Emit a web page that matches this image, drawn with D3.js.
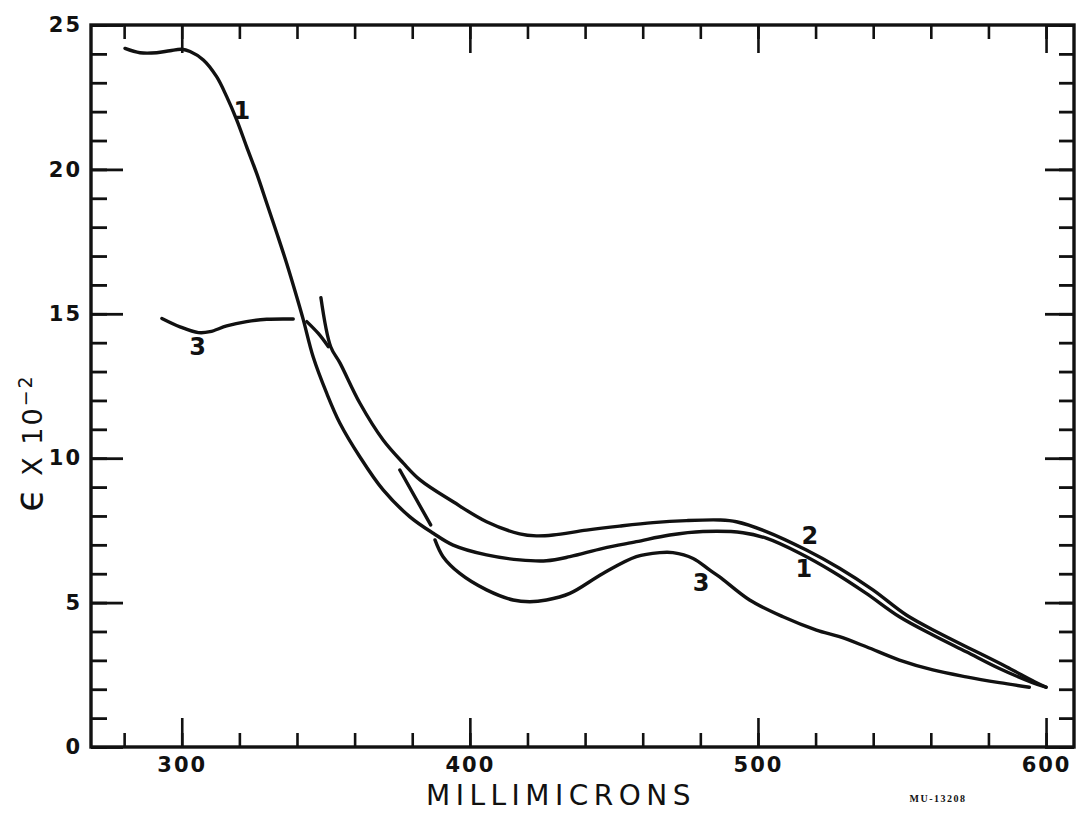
<!DOCTYPE html>
<html>
<head>
<meta charset="utf-8">
<script src="https://cdn.jsdelivr.net/npm/d3@7"></script>
<style>
  html, body { margin: 0; padding: 0; background: #fff; }
  svg { display: block; }
  text { font-family: "DejaVu Sans", sans-serif; fill: #111; }
</style>
</head>
<body>
<svg id="chart" width="1078" height="823"></svg>
<script>
// Absorption spectra, molar extinction coefficient (x 10^-2) vs wavelength (mμ)

// Curve 1
const curve1Nm  = [280.3, 285.5, 291.3, 295.9, 300.0, 302.9, 307.5, 312.1, 315.6, 319.1, 322.5, 326.0, 329.5, 333.0, 336.4, 339.9, 342.2, 345.6, 350.3, 354.9, 361.8, 369.9, 379.2, 387.3, 394.2, 405.8, 417.3, 426.6, 434.7, 446.2, 457.8, 469.4, 480.9, 494.8, 502.9, 514.5, 526.0, 537.6, 549.1, 560.7, 572.3, 583.8, 595.3, 600.0];
const curve1Eps = [24.19, 24.04, 24.04, 24.11, 24.16, 24.08, 23.79, 23.21, 22.52, 21.71, 20.79, 19.86, 18.83, 17.79, 16.75, 15.59, 14.79, 13.51, 12.25, 11.21, 10.05, 8.90, 7.97, 7.40, 6.99, 6.65, 6.48, 6.45, 6.59, 6.88, 7.11, 7.34, 7.46, 7.42, 7.23, 6.71, 6.07, 5.32, 4.51, 3.88, 3.30, 2.72, 2.23, 2.07];

// Curve 2
const curve2Nm  = [348.3, 351.7, 354.9, 361.8, 369.9, 376.9, 382.7, 394.2, 405.8, 417.3, 423.1, 428.9, 440.5, 452.0, 463.6, 475.2, 486.7, 492.5, 502.9, 516.8, 528.3, 539.9, 551.5, 563.0, 574.6, 586.2, 596.0, 600.0];
const curve2Eps = [15.56, 13.86, 13.30, 11.91, 10.63, 9.83, 9.25, 8.49, 7.80, 7.38, 7.31, 7.34, 7.51, 7.65, 7.77, 7.84, 7.86, 7.80, 7.46, 6.82, 6.19, 5.44, 4.57, 3.94, 3.36, 2.78, 2.26, 2.07];

// Curve 3, drawn in separate pieces
const curve3aNm  = [293.1, 299.4, 305.8, 309.8, 315.6, 322.5, 329.5, 338.7];
const curve3aEps = [14.84, 14.55, 14.35, 14.38, 14.58, 14.73, 14.81, 14.82];
const curve3bNm  = [343.4, 347.4, 350.9];
const curve3bEps = [14.73, 14.32, 13.86];
const curve3cNm  = [375.7, 386.4];
const curve3cEps = [9.59, 7.69];
const curve3dNm  = [387.9, 390.7, 396.5, 405.8, 415.0, 420.8, 426.6, 434.7, 446.2, 457.8, 465.9, 470.5, 477.5, 483.2, 486.7, 497.1, 508.7, 520.3, 528.3, 537.6, 549.1, 560.7, 572.3, 583.8, 594.2];
const curve3dEps = [7.17, 6.59, 6.01, 5.44, 5.09, 5.03, 5.09, 5.32, 6.01, 6.59, 6.73, 6.73, 6.53, 6.13, 5.89, 5.09, 4.51, 4.05, 3.82, 3.47, 3.01, 2.67, 2.43, 2.23, 2.07];

// Curve labels
const labelText = ["1", "3", "2", "1", "3"];
const labelNm   = [320.9, 305.5, 518.0, 515.9, 480.3];
const labelEps  = [22.06, 13.88, 7.34, 6.18, 5.70];

// Axis ticks
const xMinorTicks = d3.range(280, 601, 20);
const xMajorTicks = [300, 400, 500, 600];
const yMinorTicks = d3.range(0, 26, 1);
const yMajorTicks = [0, 5, 10, 15, 20, 25];

const svg = d3.select("#chart");
const plotLeft = 91, plotRight = 1074, plotTop = 25, plotBottom = 747;

const x = d3.scaleLinear().domain([268.5, 609.7]).range([plotLeft, plotRight]);
const y = d3.scaleLinear().domain([0, 25]).range([plotBottom, plotTop]);

const line = d3.line()
  .x(d => x(d[0]))
  .y(d => y(d[1]))
  .curve(d3.curveCatmullRom.alpha(0.5));

const zip = (a, b) => a.map((v, i) => [v, b[i]]);

function styleAxis(g, width) {
  g.select(".domain").remove();
  g.selectAll(".tick line").attr("stroke", "#111").attr("stroke-width", width);
  g.selectAll(".tick text")
    .style("font-family", "'DejaVu Sans', sans-serif")
    .style("font-size", "21px")
    .style("font-weight", "bold")
    .style("letter-spacing", "2px")
    .attr("fill", "#111");
}

// Bottom axis
svg.append("g").attr("transform", `translate(0,${plotBottom})`)
  .call(d3.axisBottom(x).tickValues(xMinorTicks).tickSize(-14).tickFormat(""))
  .call(g => styleAxis(g, 2.6));
svg.append("g").attr("transform", `translate(0,${plotBottom})`)
  .call(d3.axisBottom(x).tickValues(xMajorTicks).tickSize(-29).tickPadding(10).tickFormat(d3.format("d")))
  .call(g => styleAxis(g, 2.6));

// Top axis
svg.append("g").attr("transform", `translate(0,${plotTop})`)
  .call(d3.axisTop(x).tickValues(xMinorTicks).tickSize(-14).tickFormat(""))
  .call(g => styleAxis(g, 2.6));
svg.append("g").attr("transform", `translate(0,${plotTop})`)
  .call(d3.axisTop(x).tickValues(xMajorTicks).tickSize(-28).tickFormat(""))
  .call(g => styleAxis(g, 2.6));

// Left axis
svg.append("g").attr("transform", `translate(${plotLeft},0)`)
  .call(d3.axisLeft(y).tickValues(yMinorTicks).tickSize(-16).tickFormat(""))
  .call(g => styleAxis(g, 2.8));
svg.append("g").attr("transform", `translate(${plotLeft},0)`)
  .call(d3.axisLeft(y).tickValues(yMajorTicks).tickSize(-32).tickPadding(9).tickFormat(d3.format("d")))
  .call(g => styleAxis(g, 2.8));

// Right axis
svg.append("g").attr("transform", `translate(${plotRight},0)`)
  .call(d3.axisRight(y).tickValues(yMinorTicks).tickSize(-15).tickFormat(""))
  .call(g => styleAxis(g, 2.8));
svg.append("g").attr("transform", `translate(${plotRight},0)`)
  .call(d3.axisRight(y).tickValues(yMajorTicks).tickSize(-29).tickFormat(""))
  .call(g => styleAxis(g, 2.8));

// Frame
svg.append("rect")
  .attr("x", plotLeft).attr("y", plotTop)
  .attr("width", plotRight - plotLeft).attr("height", plotBottom - plotTop)
  .attr("fill", "none").attr("stroke", "#111").attr("stroke-width", 3.4);

// Curves
const series = [
  zip(curve1Nm, curve1Eps),
  zip(curve2Nm, curve2Eps),
  zip(curve3aNm, curve3aEps),
  zip(curve3bNm, curve3bEps),
  zip(curve3cNm, curve3cEps),
  zip(curve3dNm, curve3dEps)
];
svg.append("g").selectAll("path")
  .data(series)
  .join("path")
  .attr("d", line)
  .attr("fill", "none")
  .attr("stroke", "#111")
  .attr("stroke-width", 3.4)
  .attr("stroke-linecap", "round")
  .attr("stroke-linejoin", "round");

// Curve labels
svg.append("g").selectAll("text")
  .data(labelText.map((t, i) => ({ t, nm: labelNm[i], e: labelEps[i] })))
  .join("text")
  .attr("x", d => x(d.nm))
  .attr("y", d => y(d.e))
  .attr("dy", "0.36em")
  .attr("text-anchor", "middle")
  .style("font-size", "24px")
  .style("font-weight", "bold")
  .text(d => d.t);

// Axis titles
svg.append("text")
  .attr("x", 561).attr("y", 805)
  .attr("text-anchor", "middle")
  .style("font-size", "28px")
  .style("letter-spacing", "5.5px")
  .text("MILLIMICRONS");

const yTitle = svg.append("text")
  .attr("transform", "translate(42,443) rotate(-90)")
  .attr("text-anchor", "middle")
  .style("font-size", "27px")
  .style("letter-spacing", "2px");
yTitle.append("tspan").style("font-size", "38px").text("ϵ");
yTitle.append("tspan").text(" X 10");
yTitle.append("tspan").attr("dy", "-0.55em").style("font-size", "19px").text("−2");

// Drawing number
svg.append("text")
  .attr("x", 938).attr("y", 802)
  .attr("text-anchor", "middle")
  .style("font-family", "'Liberation Serif', serif")
  .style("font-size", "10px")
  .style("font-weight", "bold")
  .style("letter-spacing", "1.5px")
  .text("MU-13208");
</script>
</body>
</html>
